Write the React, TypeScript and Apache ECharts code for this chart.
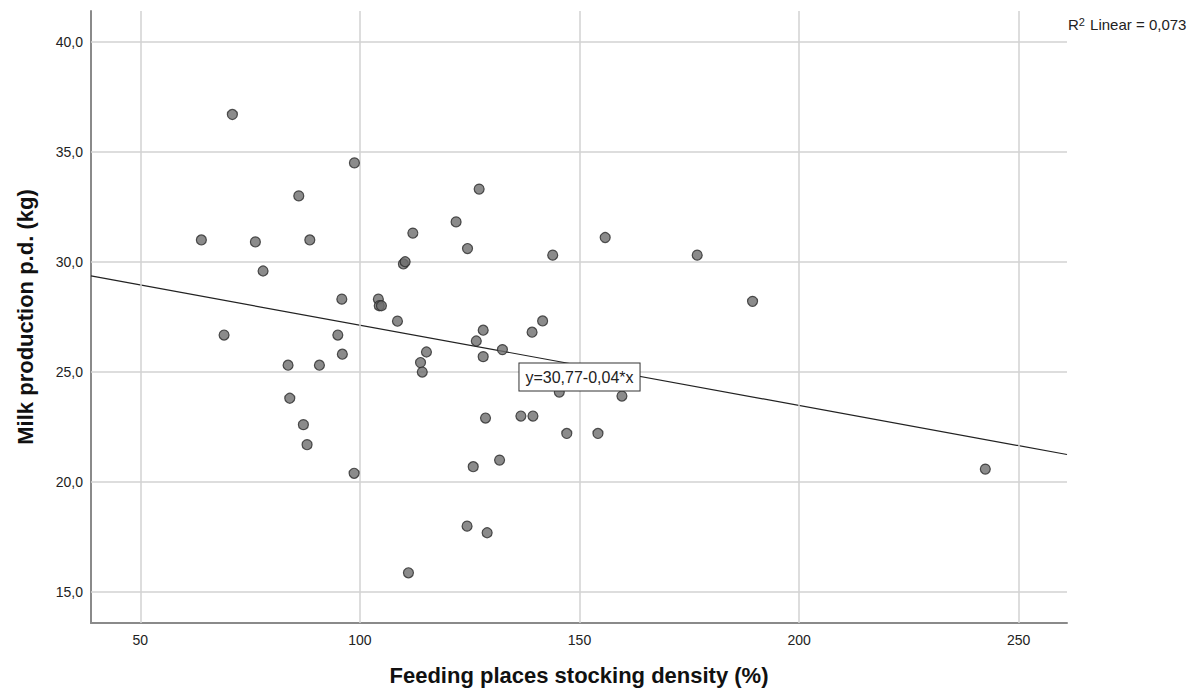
import React, { useEffect, useRef } from "react";
import * as echarts from "echarts";

// Scatter data: feeding places stocking density (%) vs milk production p.d. (kg)
const stockingDensity: number[] = [
  70.96, 98.75, 86.08, 63.9, 76.2, 88.59, 77.95, 95.88, 104.2, 104.4, 104.9, 108.55,
  69.07, 94.97, 96.0, 83.64, 90.78, 84.03, 87.13, 87.97, 98.68, 127.15, 121.9, 112.05,
  155.85, 124.5, 143.9, 176.8, 109.9, 110.3, 189.4, 141.6, 128.07, 139.2, 126.5, 132.45,
  115.15, 128.07, 113.8, 114.2, 145.4, 159.66, 128.6, 136.65, 139.4, 147.1, 154.2, 131.8,
  125.8, 124.4, 128.97, 111.05, 242.4,
];
const milkProduction: number[] = [
  36.69, 34.49, 32.99, 30.99, 30.9, 30.99, 29.58, 28.3, 28.3, 28.0, 28.0, 27.3,
  26.67, 26.67, 25.8, 25.3, 25.3, 23.8, 22.6, 21.69, 20.39, 33.3, 31.81, 31.3,
  31.1, 30.6, 30.3, 30.3, 29.9, 30.0, 28.2, 27.31, 26.89, 26.8, 26.4, 26.01,
  25.9, 25.69, 25.42, 24.99, 24.08, 23.9, 22.9, 22.99, 22.99, 22.2, 22.2, 20.99,
  20.69, 17.99, 17.69, 15.87, 20.58,
];

// Tick values (grid lines)
const xTicks: number[] = [50, 100, 150, 200, 250];
const yTicks: number[] = [15, 20, 25, 30, 35, 40];

// Fit line y = intercept + slope * x
const fitIntercept = 30.77;
const fitSlope = -0.0365;
const fitLabel = "y=30,77-0,04*x";
const fitLabelAt: [number, number] = [150, 24.76];
const r2Text = "0,073";

const xRange: [number, number] = [38.77, 261.0];
const yRange: [number, number] = [13.59, 41.39];

const xTitle = "Feeding places stocking density (%)";
const yTitle = "Milk production p.d. (kg)";

const FONT = "'Liberation Sans', Arial, sans-serif";

export default function App() {
  const ref = useRef<HTMLDivElement>(null);

  useEffect(() => {
    document.body.style.margin = "0";
    if (!ref.current) return;
    const chart = echarts.init(ref.current, undefined, { renderer: "svg" });

    const points = stockingDensity.map((x, i) => [x, milkProduction[i]]);
    const fitLine = xRange.map((x) => [x, fitIntercept + fitSlope * x]);
    const gridLines = [
      ...xTicks.map((v) => ({ xAxis: v })),
      ...yTicks.map((v) => ({ yAxis: v })),
    ];

    chart.setOption({
      animation: false,
      backgroundColor: "#ffffff",
      textStyle: { fontFamily: FONT },
      grid: { left: 91, right: 133, top: 11, bottom: 75 },
      xAxis: {
        type: "value",
        min: xRange[0],
        max: xRange[1],
        minInterval: 50,
        maxInterval: 50,
        name: xTitle,
        nameLocation: "middle",
        nameGap: 41,
        nameTextStyle: { fontSize: 22, fontWeight: "bold", color: "#111", fontFamily: FONT },
        axisLine: { show: true, onZero: false, lineStyle: { color: "#8a8a8a", width: 2 } },
        axisTick: { show: false },
        axisLabel: {
          showMinLabel: false,
          showMaxLabel: false,
          fontSize: 14,
          color: "#222",
          margin: 10,
          fontFamily: FONT,
          formatter: (v: number) => String(Math.round(v)),
        },
        splitLine: { show: false },
      },
      yAxis: {
        type: "value",
        min: yRange[0],
        max: yRange[1],
        minInterval: 5,
        maxInterval: 5,
        name: yTitle,
        nameLocation: "middle",
        nameGap: 55,
        nameTextStyle: { fontSize: 22, fontWeight: "bold", color: "#111", fontFamily: FONT },
        axisLine: { show: true, onZero: false, lineStyle: { color: "#8a8a8a", width: 2 } },
        axisTick: { show: false },
        axisLabel: {
          showMinLabel: false,
          showMaxLabel: false,
          fontSize: 14,
          color: "#222",
          margin: 8,
          fontFamily: FONT,
          formatter: (v: number) => v.toFixed(1).replace(".", ","),
        },
        splitLine: { show: false },
      },
      series: [
        {
          type: "scatter",
          data: [],
          z: 1,
          silent: true,
          markLine: {
            silent: true,
            symbol: "none",
            label: { show: false },
            lineStyle: { type: "solid", color: "#d2d2d2", width: 1.5 },
            data: gridLines,
          },
        },
        {
          type: "line",
          data: fitLine,
          symbol: "none",
          z: 2,
          lineStyle: { color: "#222", width: 1.2 },
          markPoint: {
            symbol: "rect",
            symbolSize: 0,
            z: 10,
            data: [
              {
                coord: fitLabelAt,
                label: {
                  show: true,
                  position: "inside",
                  formatter: fitLabel,
                  fontSize: 16,
                  color: "#222",
                  fontFamily: FONT,
                  backgroundColor: "#ffffff",
                  borderColor: "#333",
                  borderWidth: 1,
                  padding: [6, 6, 5, 6],
                },
              },
            ],
          },
        },
        {
          type: "scatter",
          data: points,
          symbol: "circle",
          symbolSize: 10,
          z: 5,
          itemStyle: { color: "#6e6e6e", borderColor: "#2a2a2a", borderWidth: 1.2 },
        },
      ],
      graphic: [
        {
          type: "text",
          left: 1068,
          top: 16,
          style: {
            text: "R{sup|2} Linear = " + r2Text,
            fontSize: 15,
            fill: "#222",
            fontFamily: FONT,
            rich: {
              sup: { fontSize: 11, verticalAlign: "top", padding: [0, 1, 6, 0], fill: "#222" },
            },
          },
        },
      ],
    });

    return () => chart.dispose();
  }, []);

  return <div ref={ref} style={{ width: 1200, height: 698 }} />;
}
